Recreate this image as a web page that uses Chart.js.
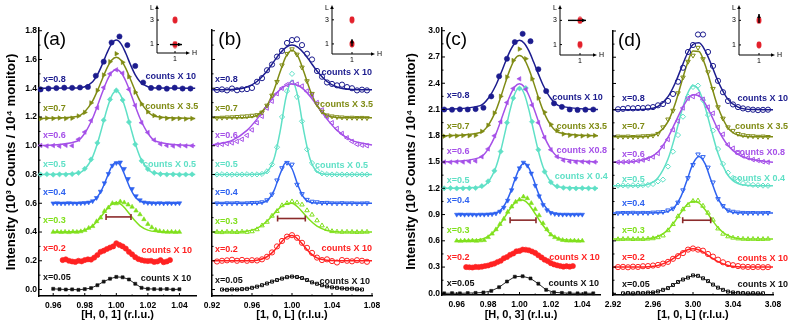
<!DOCTYPE html>
<html>
<head>
<meta charset="utf-8">
<script src="https://cdn.jsdelivr.net/npm/chart.js@4.4.1/dist/chart.umd.min.js"></script>
<style>
body{margin:0;background:#fff;}
#fig{position:relative;width:789px;height:324px;overflow:hidden;}
#fig canvas{position:absolute;}
</style>
</head>
<body>
<div id="fig">
<canvas id="pa" width="789" height="324" style="left:0;top:0"></canvas>
<canvas id="pb" width="789" height="324" style="left:0;top:0"></canvas>
<canvas id="pc" width="789" height="324" style="left:0;top:0"></canvas>
<canvas id="pd" width="789" height="324" style="left:0;top:0"></canvas>
<canvas id="ia" width="60" height="66" style="left:145px;top:0"></canvas>
<canvas id="ib" width="66" height="66" style="left:320px;top:0"></canvas>
<canvas id="ic" width="62" height="67" style="left:548px;top:0"></canvas>
<canvas id="idd" width="62" height="67" style="left:727px;top:0"></canvas>
</div>
<script>
// ---- scan grids ----
var hStep5 = [0.952,0.957,0.962,0.967,0.972,0.977,0.982,0.987,0.992,0.997,1.002,1.007,1.012,1.017,1.022,1.027,1.032,1.037,1.042,1.047];
var hStep4 = [0.952,0.956,0.960,0.964,0.968,0.972,0.976,0.980,0.984,0.988,0.992,0.996,1.000,1.004,1.008,1.012,1.016,1.020,1.024,1.028,1.032,1.036,1.040,1.044,1.048];
var hFine = [0.96,0.9625,0.965,0.9675,0.97,0.9725,0.975,0.9775,0.98,0.9825,0.985,0.9875,0.99,0.9925,0.995,0.9975,1.0,1.0025,1.005,1.0075,1.01,1.0125,1.015,1.0175,1.02,1.0225,1.025,1.0275,1.03,1.0325,1.035,1.0375,1.04];
var hBlack = [0.960,0.964,0.968,0.972,0.976,0.980,0.984,0.988,0.992,0.996,1.000,1.004,1.008,1.012,1.016,1.020,1.024,1.028,1.032,1.036,1.040];
var hRed = [0.966,0.968,0.970,0.972,0.974,0.976,0.978,0.980,0.982,0.984,0.986,0.988,0.990,0.992,0.994,0.996,0.998,1.000,1.002,1.004,1.006,1.008,1.010,1.012,1.014,1.016,1.018,1.020,1.022,1.024,1.026,1.028,1.030,1.032,1.034];
var hFit = [0.951,0.975,0.980,0.985,0.988,0.991,0.994,0.997,1.000,1.003,1.006,1.009,1.012,1.015,1.020,1.025,1.050];
var hFitShort = [0.960,0.975,0.980,0.985,0.988,0.991,0.994,0.997,1.000,1.003,1.006,1.009,1.012,1.015,1.020,1.025,1.040];
var lScan = [0.925,0.930,0.935,0.940,0.945,0.950,0.955,0.960,0.965,0.970,0.975,0.980,0.985,0.990,0.995,1.000,1.005,1.010,1.015,1.020,1.025,1.030,1.035,1.040,1.045,1.050,1.055,1.060,1.065,1.070,1.075];
var lBlack = [0.930,0.935,0.940,0.945,0.950,0.955,0.960,0.965,0.970,0.975,0.980,0.985,0.990,0.995,1.000,1.005,1.010,1.015,1.020,1.025,1.030,1.035,1.040,1.045,1.050,1.055,1.060,1.065,1.070];
var lFit = [0.920,0.940,0.955,0.965,0.975,0.982,0.988,0.994,1.000,1.006,1.012,1.018,1.025,1.035,1.045,1.060,1.080];
var l3Scan = [2.925,2.930,2.935,2.940,2.945,2.950,2.955,2.960,2.965,2.970,2.975,2.980,2.985,2.990,2.995,3.000,3.005,3.010,3.015,3.020,3.025,3.030,3.035,3.040,3.045,3.050,3.055,3.060,3.065,3.070,3.075];
var l3Black = [2.930,2.935,2.940,2.945,2.950,2.955,2.960,2.965,2.970,2.975,2.980,2.985,2.990,2.995,3.000,3.005,3.010,3.015,3.020,3.025,3.030,3.035,3.040,3.045,3.050,3.055,3.060,3.065,3.070];
var l3Fit = [2.920,2.940,2.955,2.965,2.975,2.982,2.988,2.994,3.000,3.006,3.012,3.018,3.025,3.035,3.045,3.060,3.080];

// ---- (a) [H,0,1] ----
var a08 = [1.392,1.398,1.401,1.404,1.403,1.405,1.409,1.487,1.585,1.718,1.760,1.700,1.555,1.440,1.402,1.404,1.397,1.404,1.398,1.398];
var a07 = [1.188,1.192,1.190,1.193,1.189,1.192,1.207,1.232,1.298,1.385,1.492,1.585,1.640,1.580,1.480,1.372,1.290,1.236,1.210,1.196,1.191,1.188,1.190,1.186,1.189];
var a06 = [1.002,0.998,1.001,0.997,1.003,1.000,1.045,1.095,1.175,1.265,1.405,1.500,1.528,1.505,1.392,1.280,1.160,1.092,1.040,1.012,1.002,0.998,1.001,0.999,1.000];
var a05 = [0.800,0.802,0.799,0.801,0.800,0.803,0.812,0.840,0.905,1.020,1.178,1.322,1.385,1.318,1.165,1.010,0.895,0.838,0.812,0.803,0.800,0.801,0.799,0.800,0.801];
var a04 = [0.600,0.601,0.599,0.600,0.602,0.600,0.599,0.601,0.603,0.606,0.615,0.638,0.682,0.740,0.805,0.862,0.880,0.885,0.840,0.770,0.700,0.650,0.622,0.607,0.603,0.601,0.600,0.602,0.599,0.601,0.600,0.600,0.601];
var a03 = [0.400,0.402,0.399,0.401,0.398,0.402,0.400,0.404,0.412,0.428,0.440,0.474,0.500,0.545,0.570,0.600,0.598,0.612,0.605,0.590,0.575,0.548,0.522,0.488,0.455,0.432,0.415,0.406,0.402,0.400,0.401,0.399,0.400];
var a02 = [0.205,0.210,0.200,0.195,0.192,0.200,0.196,0.205,0.210,0.208,0.222,0.240,0.262,0.270,0.282,0.292,0.300,0.322,0.310,0.300,0.285,0.262,0.245,0.225,0.212,0.205,0.200,0.198,0.200,0.192,0.195,0.205,0.190,0.195,0.205];
var a005 = [0.005,0.002,0.000,0.001,-0.002,0.003,0.010,0.030,0.055,0.075,0.088,0.085,0.070,0.040,0.012,0.005,0.003,0.002,0.004,0.000,0.002];
var fa08 = [1.400,1.401,1.410,1.445,1.493,1.563,1.643,1.709,1.735,1.709,1.643,1.563,1.493,1.445,1.410,1.401,1.400];
var fa07 = [1.190,1.203,1.237,1.312,1.382,1.461,1.538,1.594,1.615,1.594,1.538,1.461,1.382,1.312,1.237,1.203,1.190];
var fa06 = [1.000,1.031,1.087,1.191,1.276,1.367,1.450,1.509,1.530,1.509,1.450,1.367,1.276,1.191,1.087,1.031,1.000];
var fa05 = [0.800,0.808,0.837,0.923,1.015,1.131,1.251,1.345,1.380,1.345,1.251,1.131,1.015,0.923,0.837,0.808,0.800];
var fa04 = [0.600,0.600,0.602,0.615,0.644,0.699,0.778,0.854,0.885,0.854,0.778,0.699,0.644,0.615,0.602,0.600,0.600];
var fa03 = [0.400,0.403,0.413,0.443,0.476,0.517,0.559,0.592,0.605,0.592,0.559,0.517,0.476,0.443,0.413,0.403,0.400];

// ---- (b) [1,0,L] ----
var b08 = [1.388,1.392,1.385,1.398,1.386,1.392,1.394,1.402,1.445,1.470,1.525,1.565,1.620,1.660,1.715,1.735,1.740,1.700,1.640,1.600,1.520,1.480,1.440,1.430,1.420,1.425,1.408,1.400,1.385,1.390,1.385];
var b07 = [1.193,1.196,1.198,1.199,1.201,1.204,1.206,1.210,1.214,1.232,1.280,1.350,1.445,1.560,1.640,1.672,1.635,1.545,1.450,1.362,1.290,1.238,1.212,1.205,1.200,1.198,1.195,1.196,1.194,1.195,1.193];
var b06 = [1.008,1.010,1.015,1.020,1.030,1.045,1.072,1.110,1.160,1.205,1.262,1.310,1.362,1.400,1.425,1.440,1.428,1.415,1.380,1.352,1.300,1.250,1.200,1.160,1.120,1.085,1.055,1.030,1.010,1.004,1.000];
var b05 = [0.800,0.802,0.800,0.799,0.801,0.800,0.802,0.800,0.801,0.804,0.822,0.870,0.990,1.200,1.380,1.500,1.340,1.170,0.975,0.880,0.830,0.808,0.802,0.800,0.801,0.800,0.799,0.800,0.801,0.800,0.800];
var b04 = [0.600,0.598,0.601,0.600,0.602,0.599,0.601,0.603,0.604,0.608,0.622,0.662,0.760,0.845,0.882,0.870,0.730,0.665,0.625,0.612,0.608,0.603,0.604,0.601,0.600,0.602,0.600,0.601,0.599,0.600,0.601];
var b03 = [0.400,0.398,0.401,0.400,0.399,0.402,0.400,0.404,0.418,0.445,0.470,0.512,0.545,0.585,0.600,0.612,0.605,0.590,0.550,0.520,0.480,0.445,0.420,0.405,0.402,0.400,0.401,0.400,0.399,0.400,0.401];
var b02 = [0.195,0.200,0.203,0.207,0.200,0.206,0.200,0.204,0.202,0.210,0.228,0.258,0.300,0.338,0.368,0.378,0.360,0.325,0.290,0.255,0.222,0.205,0.210,0.198,0.188,0.205,0.200,0.196,0.204,0.200,0.193];
var b005 = [0.000,-0.002,0.001,0.000,0.003,0.005,0.012,0.020,0.030,0.042,0.055,0.066,0.076,0.086,0.090,0.087,0.080,0.066,0.050,0.040,0.030,0.022,0.015,0.012,0.008,0.005,0.006,0.002,0.000];
var fb08 = [1.390,1.392,1.409,1.447,1.520,1.587,1.644,1.685,1.700,1.685,1.644,1.587,1.520,1.447,1.409,1.392,1.390];
var fb07 = [1.195,1.195,1.197,1.211,1.280,1.388,1.511,1.621,1.665,1.621,1.511,1.388,1.280,1.211,1.197,1.195,1.195];
var fb06 = [1.005,1.037,1.107,1.185,1.280,1.344,1.390,1.420,1.430,1.420,1.390,1.344,1.280,1.185,1.107,1.037,1.005];
var fb05 = [0.800,0.800,0.800,0.801,0.820,0.909,1.095,1.336,1.455,1.336,1.095,0.909,0.820,0.801,0.800,0.800,0.800];
var fb04 = [0.600,0.600,0.600,0.600,0.618,0.688,0.802,0.883,0.840,0.724,0.638,0.607,0.601,0.600,0.600,0.600,0.600];
var fb03 = [0.400,0.400,0.406,0.425,0.475,0.527,0.570,0.597,0.600,0.572,0.527,0.482,0.441,0.411,0.402,0.400,0.400];
var fb02 = [0.200,0.200,0.200,0.204,0.228,0.269,0.319,0.362,0.375,0.350,0.302,0.255,0.220,0.203,0.200,0.200,0.200];

// ---- (c) [H,0,3] ----
var c08 = [2.100,2.098,2.102,2.100,2.105,2.120,2.250,2.480,2.680,2.870,2.965,2.880,2.560,2.310,2.170,2.130,2.100,2.095,2.098,2.100];
var c07 = [1.795,1.800,1.798,1.802,1.800,1.805,1.850,1.920,2.060,2.250,2.470,2.660,2.790,2.680,2.450,2.230,2.070,1.930,1.860,1.820,1.805,1.800,1.798,1.800,1.802];
var c06 = [1.500,1.498,1.502,1.500,1.505,1.512,1.560,1.650,1.800,1.960,2.180,2.340,2.450,2.330,2.150,1.950,1.780,1.640,1.560,1.520,1.505,1.500,1.502,1.498,1.500];
var c05 = [1.200,1.202,1.198,1.200,1.201,1.203,1.225,1.280,1.400,1.620,1.950,2.230,2.340,2.345,1.960,1.640,1.390,1.270,1.222,1.206,1.200,1.198,1.201,1.200,1.199];
var c04 = [0.900,0.902,0.899,0.901,0.900,0.898,0.901,0.900,0.903,0.905,0.913,0.935,0.980,1.060,1.180,1.310,1.430,1.495,1.460,1.370,1.230,1.110,1.010,0.950,0.920,0.908,0.902,0.900,0.901,0.899,0.900,0.901,0.900];
var c03 = [0.600,0.598,0.601,0.600,0.602,0.599,0.603,0.606,0.640,0.680,0.730,0.790,0.850,0.930,0.990,1.045,1.070,1.104,1.085,1.030,0.960,0.890,0.800,0.730,0.670,0.640,0.620,0.608,0.602,0.600,0.601,0.599,0.600];
var c02 = [0.300,0.298,0.295,0.302,0.300,0.305,0.312,0.318,0.330,0.340,0.358,0.372,0.400,0.415,0.440,0.455,0.480,0.485,0.500,0.498,0.492,0.478,0.462,0.435,0.410,0.385,0.368,0.345,0.330,0.320,0.312,0.305,0.310,0.305,0.312];
var c005 = [0.000,0.002,0.000,0.003,0.005,0.010,0.028,0.070,0.135,0.190,0.195,0.170,0.110,0.040,0.012,0.005,0.002,0.000,0.001,0.000];
var fc08 = [2.100,2.144,2.225,2.380,2.507,2.642,2.769,2.858,2.890,2.858,2.769,2.642,2.507,2.380,2.225,2.144,2.100];
var fc07 = [1.800,1.838,1.919,2.090,2.240,2.407,2.561,2.676,2.717,2.676,2.561,2.407,2.240,2.090,1.919,1.838,1.800];
var fc06 = [1.500,1.553,1.647,1.822,1.966,2.120,2.260,2.359,2.395,2.359,2.260,2.120,1.966,1.822,1.647,1.553,1.500];
var fc05 = [1.200,1.215,1.272,1.444,1.626,1.856,2.095,2.280,2.350,2.280,2.095,1.856,1.626,1.444,1.272,1.215,1.200];
var fc04 = [0.900,0.900,0.902,0.918,0.951,1.024,1.145,1.297,1.431,1.485,1.431,1.297,1.145,1.024,0.926,0.903,0.900];
var fc03 = [0.600,0.615,0.650,0.727,0.799,0.882,0.966,1.033,1.068,1.061,1.015,0.938,0.854,0.774,0.674,0.625,0.600];

// ---- (d) [1,0,L] around L=3 ----
var d08 = [2.105,2.110,2.118,2.115,2.120,2.118,2.125,2.130,2.150,2.165,2.200,2.280,2.420,2.580,2.760,2.840,2.960,2.960,2.760,2.600,2.430,2.300,2.200,2.160,2.130,2.115,2.105,2.100,2.095,2.098,2.100];
var d07 = [1.795,1.792,1.795,1.790,1.794,1.798,1.800,1.805,1.825,1.900,1.990,2.090,2.290,2.470,2.650,2.720,2.810,2.680,2.530,2.340,2.130,2.000,1.900,1.860,1.825,1.810,1.800,1.798,1.792,1.795,1.790];
var d06 = [1.500,1.502,1.505,1.510,1.515,1.525,1.540,1.560,1.600,1.680,1.760,1.870,1.970,2.120,2.230,2.250,2.275,2.220,2.130,2.060,1.900,1.820,1.700,1.660,1.610,1.570,1.550,1.530,1.520,1.505,1.500];
var d05 = [1.232,1.235,1.230,1.236,1.233,1.238,1.240,1.250,1.280,1.300,1.450,1.620,1.810,2.020,2.250,2.360,2.375,2.210,2.040,1.860,1.650,1.480,1.380,1.320,1.290,1.260,1.250,1.240,1.236,1.232,1.230];
var d04 = [0.918,0.921,0.920,0.923,0.919,0.922,0.920,0.925,0.928,0.932,0.950,0.970,1.040,1.180,1.320,1.470,1.590,1.560,1.440,1.270,1.080,1.000,0.950,0.935,0.926,0.922,0.920,0.921,0.919,0.920,0.921];
var d03 = [0.618,0.620,0.622,0.619,0.621,0.620,0.624,0.628,0.640,0.660,0.720,0.790,0.880,0.960,1.010,1.055,1.060,1.000,0.920,0.840,0.740,0.680,0.650,0.635,0.626,0.622,0.620,0.621,0.619,0.620,0.622];
var d02 = [0.300,0.303,0.298,0.305,0.302,0.310,0.312,0.318,0.325,0.340,0.360,0.395,0.425,0.460,0.500,0.513,0.500,0.488,0.450,0.420,0.385,0.355,0.335,0.322,0.312,0.305,0.302,0.300,0.303,0.298,0.300];
var d005 = [0.000,0.003,0.000,0.005,0.002,0.008,0.010,0.022,0.040,0.060,0.095,0.130,0.158,0.180,0.205,0.200,0.172,0.140,0.100,0.065,0.040,0.020,0.010,0.005,0.003,0.000,0.002,0.000,0.001];
var fd08 = [2.100,2.100,2.107,2.139,2.249,2.400,2.567,2.734,2.846,2.865,2.779,2.625,2.426,2.218,2.129,2.101,2.100];
var fd07 = [1.790,1.790,1.796,1.831,1.963,2.161,2.391,2.617,2.770,2.765,2.617,2.391,2.127,1.892,1.810,1.791,1.790];
var fd06 = [1.500,1.505,1.545,1.616,1.783,1.946,2.089,2.209,2.271,2.258,2.174,2.044,1.872,1.690,1.590,1.530,1.500];
var fd05 = [1.230,1.230,1.248,1.322,1.536,1.796,2.053,2.271,2.374,2.321,2.133,1.881,1.602,1.350,1.256,1.231,1.230];
var fd04 = [0.920,0.920,0.920,0.921,0.937,0.993,1.109,1.294,1.483,1.565,1.483,1.294,1.084,0.947,0.922,0.920,0.920];
var fd03 = [0.620,0.620,0.625,0.650,0.726,0.825,0.926,1.013,1.054,1.033,0.958,0.858,0.751,0.659,0.628,0.620,0.620];
var fd02 = [0.300,0.300,0.304,0.319,0.362,0.412,0.459,0.496,0.510,0.496,0.459,0.412,0.362,0.319,0.304,0.300,0.300];

// instrumental resolution bars [from, to, height]
var resA = [0.9935, 1.0093, 0.505];
var resB = [0.9856, 1.0133, 0.494];
var resC = [0.9940, 1.0105, 0.836];
var resD = [2.9897, 3.0177, 0.836];

// labels
var xTags = ['x=0.8','x=0.7','x=0.6','x=0.5','x=0.4','x=0.3','x=0.2','x=0.05'];
var tagYA = [1.462,1.262,1.070,0.870,0.677,0.480,0.288,0.082];
var tagYB = [1.462,1.262,1.073,0.869,0.675,0.476,0.281,0.066];
var tagYC = [2.261,1.900,1.623,1.292,1.064,0.722,0.406,0.114];
var tagYD = [2.223,1.908,1.588,1.303,1.026,0.722,0.410,0.106];

// insets: reflection positions in (H, L)
var spotH = [1, 1];
var spotL = [1, 3];

var C08 = '#1c1c8e', C07 = '#7f8b14', C06 = '#a550e8', C05 = '#5fe0c6', C04 = '#2e62f0',
    C03 = '#80e01c', C02 = '#ff2222', C005 = '#111111', CRES = '#8b2b2b';
var COLS = [C08, C07, C06, C05, C04, C03, C02, C005];
var FONT = '"Liberation Sans", Arial, sans-serif';
Chart.defaults.font.family = FONT;
Chart.defaults.color = '#000';

function pts(xs, ys) {
  return xs.map(function (x, i) { return {x: x, y: ys[i]}; });
}

function fitSet(xs, ys, col) {
  return {data: pts(xs, ys), showLine: true, borderColor: col, borderWidth: 1.5, pointRadius: 0,
    cubicInterpolationMode: 'monotone', clip: 8, order: 3};
}

function dotSet(xs, ys, col, style, rot, open, line) {
  return {data: pts(xs, ys), showLine: !!line, borderColor: col, borderWidth: 0.9,
    pointStyle: style, pointRotation: rot || 0, pointRadius: style === 'rect' ? 2.1 : 2.6,
    pointBorderColor: col, pointBackgroundColor: open ? 'rgba(255,255,255,0)' : col,
    pointBorderWidth: open ? 1 : 0.6, clip: 8, order: 2};
}

function resBar(r) {
  return {data: [{x: r[0], y: r[2]}, {x: r[1], y: r[2]}], showLine: true, borderColor: CRES, borderWidth: 1.6,
    pointStyle: 'line', pointRotation: 90, pointRadius: 3, pointBorderColor: CRES, pointBorderWidth: 1.6,
    clip: 8, order: 1};
}

// tick marks pointing into the plot
var ticksIn = {
  id: 'ticksIn',
  afterDatasetsDraw: function (ch) {
    var c = ch.ctx, a = ch.chartArea;
    c.save();
    c.strokeStyle = '#000';
    c.lineWidth = 1;
    c.beginPath();
    ['x', 'y'].forEach(function (k) {
      var s = ch.scales[k], t = s.ticks;
      for (var i = 0; i < t.length; i++) {
        var p = s.getPixelForValue(t[i].value);
        var m = i < t.length - 1 ? s.getPixelForValue((t[i].value + t[i + 1].value) / 2) : null;
        if (k === 'x') {
          c.moveTo(p, a.bottom); c.lineTo(p, a.bottom - 3);
          if (m !== null) { c.moveTo(m, a.bottom); c.lineTo(m, a.bottom - 1.5); }
        } else {
          c.moveTo(a.left, p); c.lineTo(a.left + 3, p);
          if (m !== null) { c.moveTo(a.left, m); c.lineTo(a.left + 1.5, m); }
        }
      }
    });
    c.stroke();
    c.restore();
  }
};

function notes(items) {
  return {
    id: 'notes',
    afterDatasetsDraw: function (ch) {
      var c = ch.ctx, sx = ch.scales.x, sy = ch.scales.y;
      c.save();
      c.textBaseline = 'middle';
      items.forEach(function (t) {
        c.font = t[5] || ('bold 9px ' + FONT);
        c.fillStyle = t[3];
        c.textAlign = t[4];
        c.fillText(t[0], sx.getPixelForValue(t[1]), sy.getPixelForValue(t[2]));
      });
      c.restore();
    }
  };
}

function tagNotes(x, ys, right, letter) {
  var out = xTags.map(function (t, i) { return [t, x, ys[i], COLS[i], 'left']; });
  right.forEach(function (r) { out.push([r[0], r[1], r[2], r[3], 'right']); });
  out.push([letter[0], letter[1], letter[2], '#000', 'left', '19px ' + FONT]);
  return out;
}

function panel(id, o) {
  var sets = o.fits.map(function (f) { return fitSet(f[0], f[1], f[2]); })
    .concat(o.dots.map(function (d) { return dotSet.apply(null, d); }));
  sets.push(resBar(o.res));
  return new Chart(document.getElementById(id), {
    type: 'scatter',
    data: {datasets: sets},
    options: {
      responsive: false, animation: false, events: [],
      layout: {padding: o.pad},
      plugins: {legend: {display: false}, tooltip: {enabled: false}},
      scales: {
        x: {
          min: o.x[0], max: o.x[1],
          afterFit: function (s) { s.height = o.xh; },
          grid: {display: false, drawTicks: false},
          border: {display: true, color: '#000', width: 1.5},
          ticks: {stepSize: o.x[2], includeBounds: false, maxRotation: 0, autoSkip: false, padding: 5,
            color: '#000', font: {size: 8.5, weight: 'bold'},
            callback: function (v) { return v.toFixed(2); }},
          title: {display: true, text: o.xTitle, color: '#000', font: {size: 11, weight: 'bold'},
            padding: {top: 0, bottom: 2}}
        },
        y: {
          min: o.y[0], max: o.y[1],
          afterFit: function (s) { s.width = o.yw; },
          grid: {display: false, drawTicks: false},
          border: {display: true, color: '#000', width: 1.5},
          ticks: {display: o.yw > 0, stepSize: o.y[2], includeBounds: false, padding: 2,
            color: '#000', font: {size: 8.5, weight: 'bold'},
            callback: function (v) { return v.toFixed(1); }},
          title: {display: o.yw > 0, text: 'Intensity (10³ Counts / 10⁴ monitor)', color: '#000',
            font: {size: 13, weight: 'bold'}, padding: {top: 4, bottom: 0}}
        }
      }
    },
    plugins: [ticksIn, notes(o.notes)]
  });
}

panel('pa', {
  pad: {left: 0, right: 593, top: 28, bottom: 0}, xh: 28, yw: 39,
  x: [0.951, 1.0505, 0.02], y: [-0.045, 1.819, 0.2], xTitle: '[H, 0, 1] (r.l.u.)',
  fits: [[hFit, fa08, C08], [hFit, fa07, C07], [hFit, fa06, C06], [hFit, fa05, C05],
         [hFitShort, fa04, C04], [hFitShort, fa03, C03]],
  dots: [[hStep5, a08, C08, 'circle', 0], [hStep4, a07, C07, 'triangle', 90], [hStep4, a06, C06, 'triangle', 270],
         [hStep4, a05, C05, 'rectRot', 0], [hFine, a04, C04, 'triangle', 180], [hFine, a03, C03, 'triangle', 0],
         [hRed, a02, C02, 'circle', 0], [hBlack, a005, C005, 'rect', 0, false, true]],
  res: resA,
  notes: tagNotes(0.9535, tagYA,
    [['counts X 10', 1.0505, 1.48, C08], ['counts X 3.5', 1.052, 1.27, C07], ['counts X 0.5', 1.0505, 0.87, C05],
     ['counts X 10', 1.048, 0.27, C02], ['counts X 10', 1.0475, 0.08, C005]],
    ['(a)', 0.9535, 1.735])
});

panel('pb', {
  pad: {left: 212, right: 417, top: 30, bottom: 0}, xh: 28, yw: 0,
  x: [0.92, 1.08, 0.04], y: [-0.045, 1.805, 0.2], xTitle: '[1, 0, L] (r.l.u.)',
  fits: [[lFit, fb08, C08], [lFit, fb07, C07], [lFit, fb06, C06], [lFit, fb05, C05],
         [lFit, fb04, C04], [lFit, fb03, C03], [lFit, fb02, C02]],
  dots: [[lScan, b08, C08, 'circle', 0, true], [lScan, b07, C07, 'triangle', 180, true],
         [lScan, b06, C06, 'triangle', 270, true], [lScan, b05, C05, 'rectRot', 0, true],
         [lScan, b04, C04, 'triangle', 180, true], [lScan, b03, C03, 'triangle', 0, true],
         [lScan, b02, C02, 'circle', 0, true], [lBlack, b005, C005, 'rect', 0, true, true]],
  res: resB,
  notes: tagNotes(0.923, tagYB,
    [['counts X 10', 1.080, 1.512, C08], ['counts X 3.5', 1.081, 1.288, C07], ['counts X 0.5', 1.076, 0.865, C05],
     ['counts X 10', 1.080, 0.286, C02], ['counts X 10', 1.078, 0.059, C005]],
    ['(b)', 0.9263, 1.735])
});

panel('pc', {
  pad: {left: 400, right: 189, top: 28, bottom: 0}, xh: 29, yw: 42,
  x: [0.9506, 1.0513, 0.02], y: [-0.019, 3.031, 0.3], xTitle: '[H, 0, 3] (r.l.u.)',
  fits: [[hFit, fc08, C08], [hFit, fc07, C07], [hFit, fc06, C06], [hFit, fc05, C05],
         [hFitShort, fc04, C04], [hFitShort, fc03, C03]],
  dots: [[hStep5, c08, C08, 'circle', 0], [hStep4, c07, C07, 'triangle', 90], [hStep4, c06, C06, 'triangle', 270],
         [hStep4, c05, C05, 'rectRot', 0], [hFine, c04, C04, 'triangle', 180], [hFine, c03, C03, 'triangle', 0],
         [hRed, c02, C02, 'circle', 0], [hStep5, c005, C005, 'rect', 0, false, true]],
  res: resC,
  notes: tagNotes(0.9536, tagYC,
    [['counts X 10', 1.0531, 2.24, C08], ['counts X3.5', 1.0557, 1.91, C07], ['counts X0.8', 1.0557, 1.626, C06],
     ['counts X 0.4', 1.0563, 1.33, C05], ['counts X 10', 1.0512, 0.41, C02], ['counts X 10', 1.0506, 0.114, C005]],
    ['(c)', 0.9525, 2.894])
});

panel('pd', {
  pad: {left: 613, right: 16, top: 31, bottom: 0}, xh: 29, yw: 0,
  x: [2.92, 3.08, 0.04], y: [-0.019, 3.0, 0.3], xTitle: '[1, 0, L] (r.l.u.)',
  fits: [[l3Fit, fd08, C08], [l3Fit, fd07, C07], [l3Fit, fd06, C06], [l3Fit, fd05, C05],
         [l3Fit, fd04, C04], [l3Fit, fd03, C03], [l3Fit, fd02, C02]],
  dots: [[l3Scan, d08, C08, 'circle', 0, true], [l3Scan, d07, C07, 'triangle', 180, true],
         [l3Scan, d06, C06, 'triangle', 270, true], [l3Scan, d05, C05, 'rectRot', 0, true],
         [l3Scan, d04, C04, 'triangle', 180, true], [l3Scan, d03, C03, 'triangle', 0, true],
         [l3Scan, d02, C02, 'circle', 0, true], [l3Black, d005, C005, 'rect', 0, true, true]],
  res: resD,
  notes: tagNotes(2.929, tagYD,
    [['counts X 10', 3.095, 2.23, C08], ['counts X 3.5', 3.095, 1.91, C07], ['counts X0.8', 3.092, 1.615, C06],
     ['counts X 0.4', 3.092, 1.31, C05], ['counts X 10', 3.095, 0.40, C02], ['counts X 10', 3.095, 0.103, C005]],
    ['(d)', 2.925, 2.894])
});

// ---- insets ----
function head(c, x, y, dx, dy, s) {
  c.beginPath();
  c.moveTo(x, y);
  c.lineTo(x - dx * s - dy * s * 0.45, y - dy * s + dx * s * 0.45);
  c.lineTo(x - dx * s + dy * s * 0.45, y - dy * s - dx * s * 0.45);
  c.closePath();
  c.fill();
}

var spot = document.createElement('canvas');
spot.width = 6; spot.height = 8;
(function () {
  var g = spot.getContext('2d');
  g.fillStyle = '#e3202b';
  g.beginPath(); g.ellipse(3, 4, 2.5, 3.4, 0, 0, Math.PI * 2); g.fill();
})();

var insetAxes = {
  id: 'insetAxes',
  beforeDatasetsDraw: function (ch) {
    var c = ch.ctx, a = ch.chartArea, sx = ch.scales.x, sy = ch.scales.y;
    var h1 = sx.getPixelForValue(1);
    c.save();
    c.strokeStyle = '#000'; c.fillStyle = '#000'; c.lineWidth = 1;
    c.beginPath();
    c.moveTo(a.left, a.top + 2); c.lineTo(a.left, a.bottom); c.lineTo(a.right - 2, a.bottom);
    c.moveTo(h1, a.bottom); c.lineTo(h1, a.bottom - 2);
    [1, 3].forEach(function (v) { var p = sy.getPixelForValue(v); c.moveTo(a.left, p); c.lineTo(a.left + 2, p); });
    c.stroke();
    head(c, a.left, a.top, 0, -1, 4);
    head(c, a.right, a.bottom, 1, 0, 4);
    c.font = '7px ' + FONT;
    c.textBaseline = 'middle';
    c.textAlign = 'right';
    c.fillText('L', a.left - 3, a.top + 3);
    c.fillText('3', a.left - 3, sy.getPixelForValue(3));
    c.fillText('1', a.left - 3, sy.getPixelForValue(1));
    c.textAlign = 'left';
    c.fillText('H', a.right + 2, a.bottom);
    c.textAlign = 'center';
    c.fillText('1', h1, a.bottom + 6);
    c.restore();
  },
  afterDatasetsDraw: function (ch) {
    var m = ch.getDatasetMeta(1).data, p = m[m.length - 1], q = m[m.length - 2];
    var dx = p.x - q.x, dy = p.y - q.y, len = Math.sqrt(dx * dx + dy * dy);
    ch.ctx.save();
    ch.ctx.fillStyle = '#000';
    head(ch.ctx, p.x, p.y, dx / len, dy / len, 4);
    ch.ctx.restore();
  }
};

function inset(id, o) {
  return new Chart(document.getElementById(id), {
    type: 'scatter',
    data: {datasets: [
      {data: pts(spotH, spotL), pointStyle: spot, pointRadius: 3, order: 2},
      {data: pts(o.ah, o.al), showLine: true, borderColor: '#000', borderWidth: 1.4, pointRadius: 0, order: 1}
    ]},
    options: {
      responsive: false, animation: false, events: [],
      layout: {padding: o.pad},
      plugins: {legend: {display: false}, tooltip: {enabled: false}},
      scales: {x: {display: false, min: 0, max: o.xmax}, y: {display: false, min: o.y[0], max: o.y[1]}}
    },
    plugins: [insetAxes]
  });
}

// scan directions drawn as arrows in the (H, L) plane
var arrowA = {h: [0.72, 1.39], l: [1, 1]};
var arrowB = {h: [1, 1], l: [0.81, 1.39]};
var arrowC = {h: [0.40, 1.30], l: [3, 3]};
var arrowD = {h: [1, 1], l: [2.79, 3.51]};

inset('ia', {pad: {left: 12, right: 15, top: 2, bottom: 13}, xmax: 1.833, y: [0.31, 4.23], ah: arrowA.h, al: arrowA.l});
inset('ib', {pad: {left: 12, right: 11, top: 2, bottom: 12}, xmax: 2.15, y: [0.164, 4.23], ah: arrowB.h, al: arrowB.l});
inset('ic', {pad: {left: 12, right: 13, top: 2, bottom: 12}, xmax: 1.85, y: [0.14, 4.27], ah: arrowC.h, al: arrowC.l});
inset('idd', {pad: {left: 12, right: 14, top: 2, bottom: 12}, xmax: 1.8, y: [0.18, 4.25], ah: arrowD.h, al: arrowD.l});
</script>
</body>
</html>
